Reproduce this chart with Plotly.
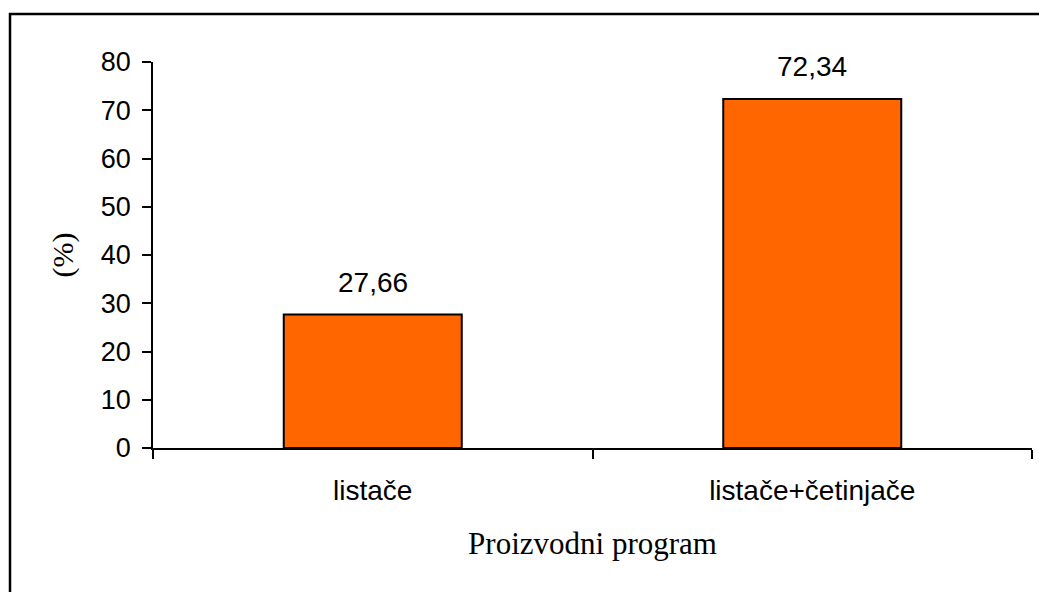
import plotly.graph_objects as go

categories = ["listače", "listače+četinjače"]
values = [27.66, 72.34]
y_ticks = [0, 10, 20, 30, 40, 50, 60, 70, 80]
x_title = "Proizvodni program"
y_title = "(%)"

W, H = 1039, 592
ml, mr, mt, mb = 153, 7, 62, 144
pw, ph = W - ml - mr, H - mt - mb

fig = go.Figure()
fig.add_trace(go.Bar(
    x=categories, y=values,
    marker=dict(color="#FF6600", line=dict(color="black", width=2)),
    showlegend=False, hoverinfo="skip",
))

for c, v in zip(categories, values):
    fig.add_annotation(
        x=c, y=v, text=f"{v:.2f}".replace(".", ","), showarrow=False,
        yanchor="bottom", yshift=15,
        font=dict(family="Liberation Sans, Arial", size=28, color="black"),
    )

# frame around the chart area
x0 = (10 - ml) / pw
y1 = (H - mb - 14) / ph
fig.add_shape(type="rect", xref="paper", yref="paper",
              x0=x0, y0=-1, x1=1.2, y1=y1,
              line=dict(color="black", width=2.5), fillcolor="rgba(0,0,0,0)")

fig.update_layout(
    width=W, height=H,
    margin=dict(l=ml, r=mr, t=mt, b=mb),
    paper_bgcolor="white", plot_bgcolor="white",
    bargap=0.595,
    font=dict(family="Liberation Sans, Arial", size=28, color="black"),
    xaxis=dict(
        type="category", tickson="boundaries", ticks="outside", ticklen=9,
        tickwidth=1.5, tickcolor="black", showline=True, linecolor="black",
        linewidth=1.5, showgrid=False, ticklabelstandoff=17,
        tickfont=dict(size=28),
        title=dict(text=x_title, font=dict(family="Liberation Serif, Times New Roman", size=31), standoff=27),
    ),
    yaxis=dict(
        range=[0, 80], tickvals=y_ticks, ticks="outside", ticklen=9,
        tickwidth=1.5, tickcolor="black", showline=True, linecolor="black",
        linewidth=1.5, showgrid=False, zeroline=False, ticklabelstandoff=6,
        tickfont=dict(size=27),
        title=dict(text=y_title, font=dict(family="Liberation Serif, Times New Roman", size=30), standoff=18),
    ),
)

fig.write_html(
    "out.html",
    config={"displayModeBar": False},
    post_script="document.body.style.margin='0';document.body.style.overflow='hidden';",
)
